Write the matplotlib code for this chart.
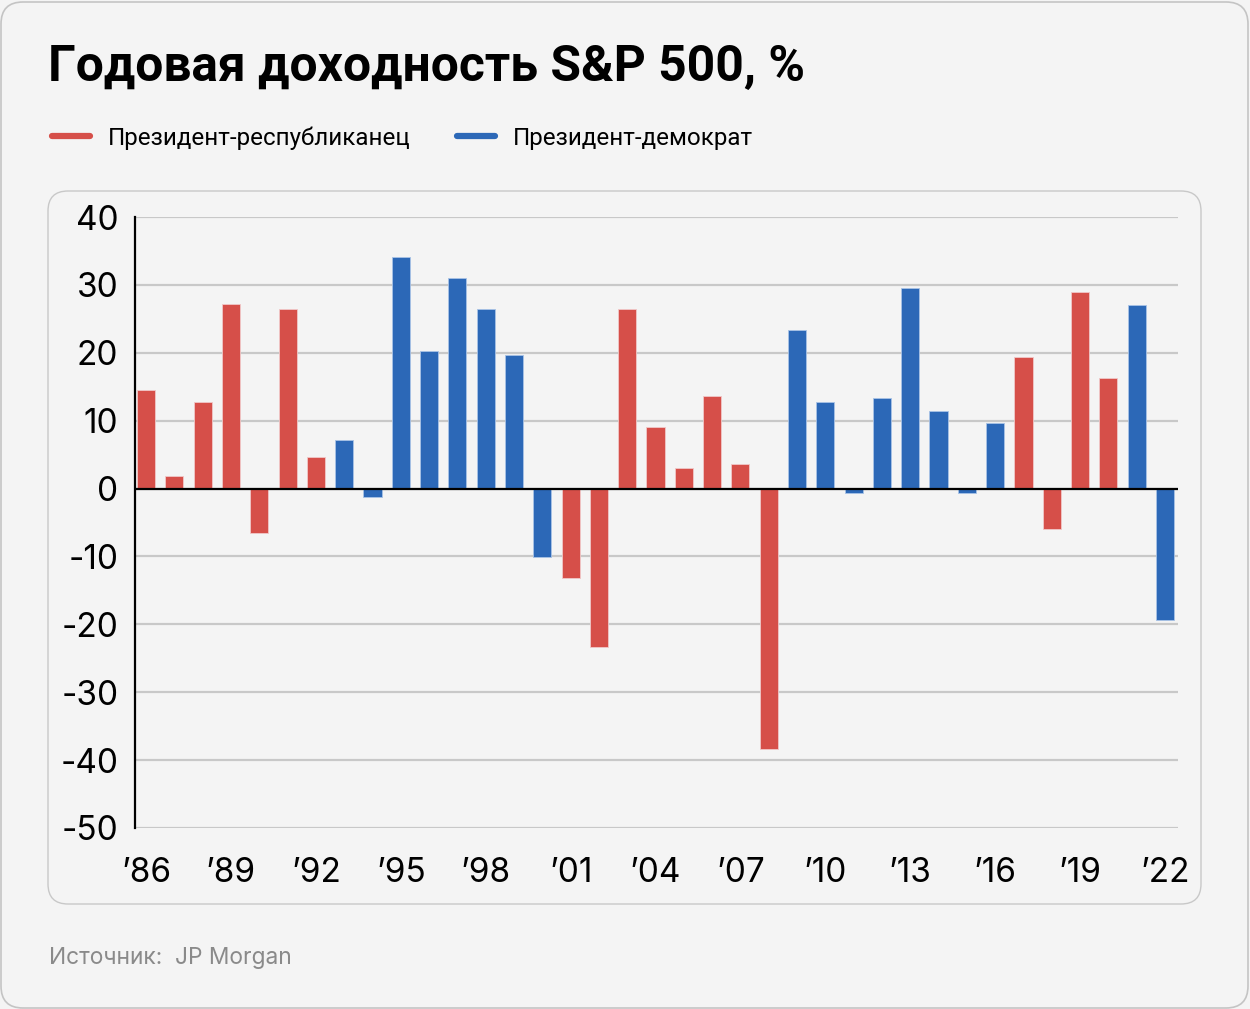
import matplotlib.pyplot as plt
from matplotlib.patches import FancyBboxPatch
from matplotlib.transforms import IdentityTransform

plt.rcParams['font.family'] = ['Inter', 'DejaVu Sans']
plt.rcParams['axes.unicode_minus'] = False

# data
years = list(range(1986, 2023))
returns = [14.5, 1.8, 12.7, 27.2, -6.6, 26.4, 4.6,
           7.1, -1.2, 34.1, 20.3, 31.0, 26.5, 19.6, -10.1,
           -13.2, -23.4, 26.4, 9.0, 3.0, 13.7, 3.6, -38.3,
           23.4, 12.7, -0.6, 13.3, 29.6, 11.4, -0.7, 9.6,
           19.4, -6.0, 28.9, 16.3,
           27.0, -19.3]
party = ['R'] * 7 + ['D'] * 8 + ['R'] * 8 + ['D'] * 8 + ['R'] * 4 + ['D'] * 2
tick_years = list(range(1986, 2023, 3))
tick_labels = ['\u2019' + str(y)[2:] for y in tick_years]

red = '#D64F49'
blue = '#2C68B7'
bg = '#F4F4F4'
colors = [red if p == 'R' else blue for p in party]

W, H = 1250, 1009
fig = plt.figure(figsize=(W / 100, H / 100), dpi=100)
fig.patch.set_facecolor(bg)

# outer frame and inner panel
outer = FancyBboxPatch((1, 1), W - 3, H - 3, boxstyle='round,pad=0,rounding_size=22',
                       transform=IdentityTransform(), facecolor=bg, edgecolor='#C4C4C4',
                       lw=1.2, zorder=-2)
fig.patches.append(outer)
panel = FancyBboxPatch((48, H - 904), 1153, 713, boxstyle='round,pad=0,rounding_size=20',
                       transform=IdentityTransform(), facecolor=bg, edgecolor='#C8C8C8',
                       lw=1.0, zorder=-1)
fig.patches.append(panel)

ax = fig.add_axes([135 / W, 181 / H, (1178 - 135) / W, (828 - 217) / H])
ax.set_facecolor('none')
ax.set_zorder(2)

ax.bar(years, returns, width=0.64, color=colors, edgecolor='#F0C8C8', linewidth=0.6, zorder=3)
# soften edges for blue bars
for b, p in zip(ax.patches, party):
    if p == 'D':
        b.set_edgecolor('#A9C3E6')

ax.set_xlim(1985.61, 2022.46)
ax.set_ylim(-50, 40)
ax.set_yticks(range(-50, 41, 10))
ax.set_xticks(tick_years)
ax.set_xticklabels(tick_labels)
ax.grid(axis='y', color='#C8C8C8', linewidth=1.6, zorder=0)
ax.axhline(0, color='black', linewidth=1.6, zorder=4)

for s in ['top', 'right', 'bottom']:
    ax.spines[s].set_visible(False)
ax.spines['left'].set_linewidth(1.6)
ax.spines['left'].set_zorder(5)
ax.tick_params(axis='both', length=0, labelsize=24, colors='black')
ax.tick_params(axis='y', pad=12)
ax.tick_params(axis='x', pad=21)

# title
fig.text(48 / W, 1 - 68 / H, 'Годовая доходность S&P 500, %', fontsize=35.8,
         fontweight='bold', family=['Roboto', 'DejaVu Sans'], va='center', ha='left')

# legend
y_leg = 1 - 136 / H
fig.add_artist(plt.Line2D([52 / W, 90 / W], [y_leg, y_leg], color=red, lw=4.5,
                          solid_capstyle='round'))
fig.text(108 / W, y_leg - 2 / H, 'Президент-республиканец', fontsize=17.4,
         family=['Roboto', 'DejaVu Sans'], va='center', ha='left')
fig.add_artist(plt.Line2D([457 / W, 495 / W], [y_leg, y_leg], color=blue, lw=4.5,
                          solid_capstyle='round'))
fig.text(513 / W, y_leg - 2 / H, 'Президент-демократ', fontsize=17.4,
         family=['Roboto', 'DejaVu Sans'], va='center', ha='left')

# source
fig.text(49 / W, 1 - 958 / H, 'Источник:  JP Morgan', fontsize=16.4, color='#8A8A8A',
         va='center', ha='left')

fig.savefig('out.png', dpi=100, facecolor=bg)
